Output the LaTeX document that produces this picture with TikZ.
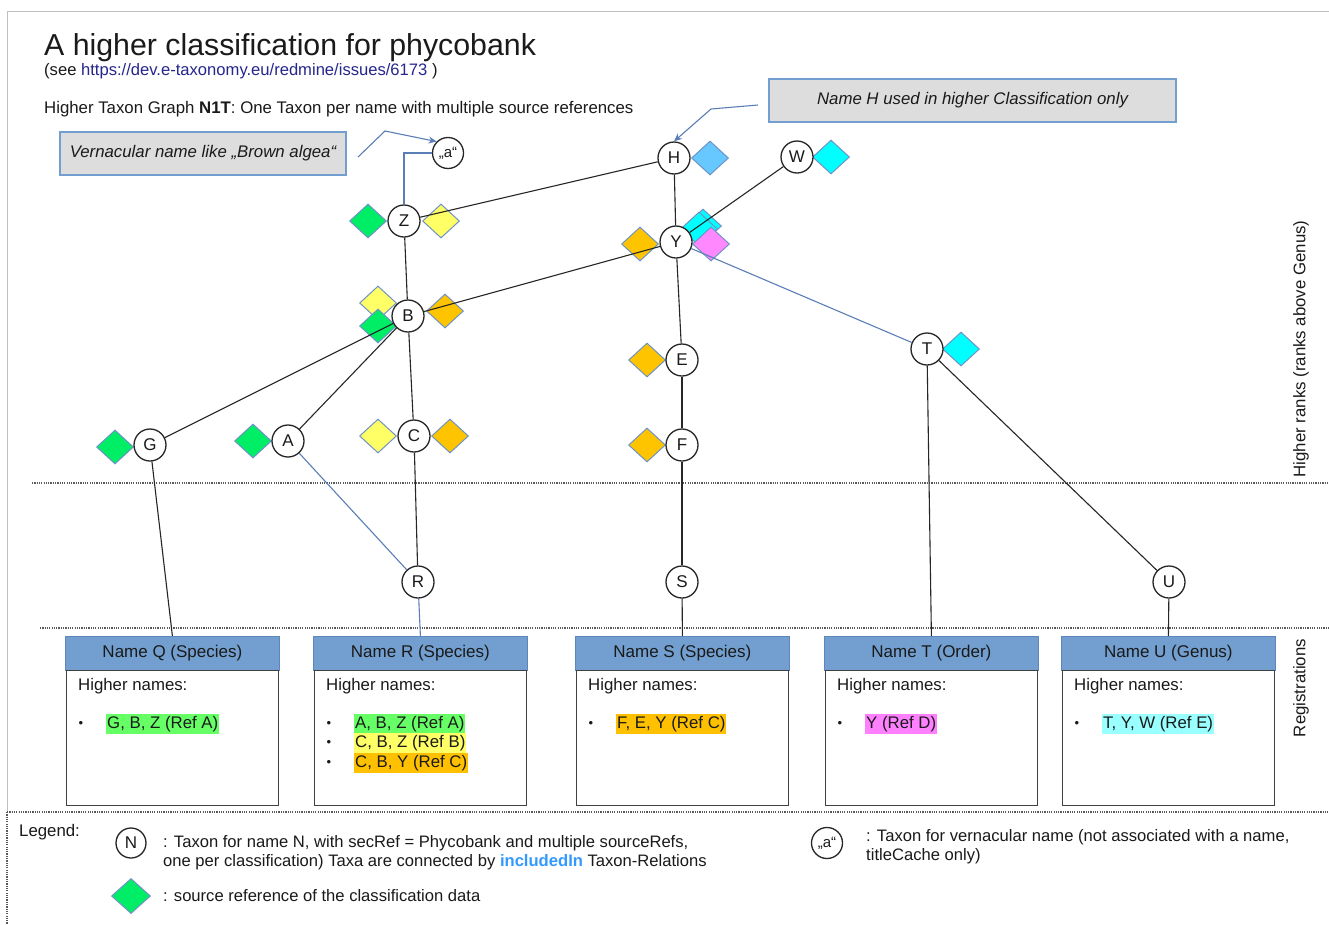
\documentclass[tikz,border=0pt]{standalone}
\usepackage{fontspec}
\setmainfont{Liberation Sans}
\usetikzlibrary{shapes.geometric,arrows.meta,calc}
\definecolor{dborder}{HTML}{6F93C6}
\definecolor{edgeblue}{HTML}{5B7DB8}
\definecolor{hdrblue}{HTML}{729FCF}
\definecolor{hdrborder}{HTML}{5F86BC}
\definecolor{callfill}{HTML}{DDDDDD}
\definecolor{urlblue}{HTML}{26268F}
\definecolor{inclblue}{HTML}{3399FF}
\definecolor{dgreen}{HTML}{00EE66}
\definecolor{dyellow}{HTML}{FFFF66}
\definecolor{dorange}{HTML}{FFC400}
\definecolor{dcyan}{HTML}{00FFFF}
\definecolor{dlblue}{HTML}{66C8FF}
\definecolor{dpink}{HTML}{FF88FF}
\definecolor{hgreen}{HTML}{66FF66}
\definecolor{hyellow}{HTML}{FFFF66}
\definecolor{horange}{HTML}{FFC000}
\definecolor{hpink}{HTML}{FF80FF}
\definecolor{hcyan}{HTML}{99FFFF}
\definecolor{txtcol}{HTML}{1A1A1A}
\newcommand\regbox[3]{%
  \node[hdr, anchor=north west] (h#1) at (#2,636) {#3};
  \node[bodybox, anchor=north west] (b#1) at (#2+1,670) {};
  \node[txt, anchor=west] (t#1) at ($(b#1.north west)+(12,16)$) {Higher names:};
}
\begin{document}
\begin{tikzpicture}[x=1pt,y=-1pt, font=\fontsize{16.8}{19.5}\selectfont, text=txtcol,
  tx/.style={circle, draw=black!85, line width=1.3pt, fill=white, minimum size=32pt, inner sep=0pt, font=\fontsize{17}{19}\selectfont},
  srcref/.style={diamond, draw=dborder, line width=1pt, minimum width=37pt, minimum height=34pt, inner sep=0pt},
  blk/.style={line width=1.1pt, black!85},
  bedge/.style={line width=1.1pt, edgeblue},
  note/.style={draw=hdrblue, line width=1.2pt, fill=callfill, minimum height=43pt, inner sep=0pt, font=\itshape\fontsize{16.8}{19.5}\selectfont},
  hdr/.style={rectangle, fill=hdrblue, draw=hdrborder, line width=0.8pt, minimum width=214pt, minimum height=34pt, inner sep=0pt, font=\fontsize{17}{19.5}\selectfont},
  bodybox/.style={rectangle, draw=black!75, line width=1.4pt, minimum width=212pt, minimum height=135pt, inner sep=0pt},
  divider/.style={dash pattern=on 1.2pt off 1.1pt, line width=1.1pt, black!65},
  txt/.style={inner sep=0pt},
  item/.style={inner xsep=1pt, inner ysep=2.5pt},
  bul/.style={inner sep=0pt, font=\fontsize{13}{15}\selectfont},
  callarrow/.style={line width=1.1pt, edgeblue, -{Stealth[length=8pt,width=7pt]}}
]
\useasboundingbox (0,0) rectangle (1329,924);
\fill[white] (0,0) rectangle (1329,924);
% frame
\draw[black!25, line width=0.8pt] (7,812) -- (7,11) -- (1329,11);
\draw[divider] (7,812) -- (7,924);
% dividers
\draw[divider] (32,483) -- (1329,483);
\draw[divider] (40,628) -- (1329,628);
\draw[divider] (7,812) -- (1329,812);

% titles
\node[txt, anchor=base west, font=\fontsize{30.3}{34}\selectfont] (title) at (44,55) {A higher classification for phycobank};
\node[txt, anchor=base west, font=\fontsize{16.6}{19}\selectfont] (subtitle) at (44,75) {(see \textcolor{urlblue}{https://dev.e-taxonomy.eu/redmine/issues/6173} )};
\node[txt, anchor=base west] (graphlabel) at (44,113) {Higher Taxon Graph \textbf{N1T}: One Taxon per name with multiple source references};

% callouts
\node[note, minimum width=286pt] (cV) at (203,153.5) {Vernacular name like „Brown algea“};
\node[note, minimum width=407pt] (cH) at (972.5,100.5) {Name H used in higher Classification only};

% source reference diamonds
\node[srcref, fill=dlblue] (dH) at (710,158) {};
\node[srcref, fill=dcyan] (dW) at (831,157) {};
\node[srcref, fill=dgreen] (dZ1) at (368,221) {};
\node[srcref, fill=dyellow] (dZ2) at (441,221) {};
\node[srcref, fill=dorange] (dY1) at (640,244) {};
\node[srcref, fill=dcyan] (dY2b) at (703,226) {};
\node[srcref, fill=dcyan] (dY2) at (699,229) {};
\node[srcref, fill=dpink] (dY3) at (711,244) {};
\node[srcref, fill=dyellow] (dB1) at (378,303) {};
\node[srcref, fill=dgreen] (dB2) at (378,326) {};
\node[srcref, fill=dorange] (dB3) at (445,311) {};
\node[srcref, fill=dorange] (dE) at (647,360) {};
\node[srcref, fill=dcyan] (dT) at (961,349) {};
\node[srcref, fill=dgreen] (dG) at (115,447) {};
\node[srcref, fill=dgreen] (dA) at (253,441) {};
\node[srcref, fill=dyellow] (dC1) at (378,436) {};
\node[srcref, fill=dorange] (dC2) at (450,436) {};
\node[srcref, fill=dorange] (dF) at (647,445) {};

% taxa
\node[tx, minimum size=31pt, font=\fontsize{15}{17}\selectfont] (a) at (448,153) {„a“};
\node[tx] (H) at (674,158) {H};
\node[tx] (W) at (797,157) {W};
\node[tx] (Z) at (404,221) {Z};
\node[tx] (Y) at (676,242) {Y};
\node[tx] (B) at (408,316) {B};
\node[tx] (E) at (682,360) {E};
\node[tx] (T) at (927,349) {T};
\node[tx] (G) at (150,445) {G};
\node[tx] (A) at (288,441) {A};
\node[tx] (C) at (414,436) {C};
\node[tx] (F) at (682,445) {F};
\node[tx] (R) at (418,582) {R};
\node[tx] (S) at (682,582) {S};
\node[tx] (U) at (1169,582) {U};

% registration boxes
\regbox{Q}{65}{Name Q (Species)}
\regbox{R}{313}{Name R (Species)}
\regbox{S}{575}{Name S (Species)}
\regbox{T}{824}{Name T (Order)}
\regbox{U}{1061}{Name U (Genus)}

\node[bul] (bQ1) at ($(bQ.north west)+(15,54)$) {•};
\node[item, anchor=west, fill=hgreen] (iQ1) at ($(bQ.north west)+(40,54)$) {G, B, Z (Ref A)};
\node[bul] (bR1) at ($(bR.north west)+(15,54)$) {•};
\node[bul] (bR2) at ($(bR.north west)+(15,73)$) {•};
\node[bul] (bR3) at ($(bR.north west)+(15,93)$) {•};
\node[item, anchor=west, fill=hgreen] (iR1) at ($(bR.north west)+(40,54)$) {A, B, Z (Ref A)};
\node[item, anchor=west, fill=hyellow] (iR2) at ($(bR.north west)+(40,73)$) {C, B, Z (Ref B)};
\node[item, anchor=west, fill=horange] (iR3) at ($(bR.north west)+(40,93)$) {C, B, Y (Ref C)};
\node[bul] (bS1) at ($(bS.north west)+(15,54)$) {•};
\node[item, anchor=west, fill=horange] (iS1) at ($(bS.north west)+(40,54)$) {F, E, Y (Ref C)};
\node[bul] (bT1) at ($(bT.north west)+(15,54)$) {•};
\node[item, anchor=west, fill=hpink] (iT1) at ($(bT.north west)+(40,54)$) {Y (Ref D)};
\node[bul] (bU1) at ($(bU.north west)+(15,54)$) {•};
\node[item, anchor=west, fill=hcyan] (iU1) at ($(bU.north west)+(40,54)$) {T, Y, W (Ref E)};

% side labels
\node[txt, rotate=90] (lblHigher) at (1301,349) {Higher ranks (ranks above Genus)};
\node[txt, rotate=90] (lblReg) at (1301,688) {Registrations};

% black included-in edges
\draw[blk] (H) -- (Z);
\draw[blk] (H) -- (Y);
\draw[blk] (W) -- (Y);
\draw[blk] (Y) -- (B);
\draw[blk] (Z) -- (B);
\draw[blk] (B) -- (G);
\draw[blk] (B) -- (A);
\draw[blk] (B) -- (C);
\draw[blk] (C) -- (R);
\draw[blk] (Y) -- (E);
\draw[blk] (E) -- (F);
\draw[blk] (F) -- (S);
\draw[blk] (T) -- (U);
\draw[blk] (G) -- (hQ.north);
\draw[blk] (S) -- (hS.north);
\draw[blk] (T) -- (hT.north);
\draw[blk] (U) -- (hU.north);
% blue edges
\draw[bedge] (A) -- (R);
\draw[bedge] (Y) -- (T);
\draw[bedge] (R) -- (hR.north);
\draw[bedge] (Z.north) |- (a.west);

% callout connectors
\coordinate (cVs) at (358,157);
\coordinate (cVk) at (385,131);
\draw[callarrow] (cVs) -- (cVk) -- (a.north west);
\coordinate (cHs) at (758,105);
\coordinate (cHk) at (711,109);
\draw[callarrow] (cHs) -- (cHk) -- (H.north);

% legend
\node[txt, anchor=base west] (legend) at (19,836) {Legend:};
\node[tx, minimum size=30pt] (lN) at (131,843) {N};
\node[txt, anchor=west, align=left, font=\fontsize{16.6}{19}\selectfont] (lNt) at (163,852.5) {: Taxon for name N, with secRef = Phycobank and multiple sourceRefs,\\one per classification) Taxa are connected by \textcolor{inclblue}{\textbf{includedIn}} Taxon-Relations};
\node[srcref, fill=dgreen, minimum width=39pt, minimum height=35pt] (lD) at (131,896) {};
\node[txt, anchor=west, font=\fontsize{16.6}{19}\selectfont] (lDt) at (163,896) {: source reference of the classification data};
\node[tx, minimum size=31pt, font=\fontsize{15}{17}\selectfont] (la) at (827,843) {„a“};
\node[txt, anchor=west, align=left, font=\fontsize{16.6}{19}\selectfont] (lat) at (866,847) {: Taxon for vernacular name (not associated with a name,\\titleCache only)};
\end{tikzpicture}
\end{document}
